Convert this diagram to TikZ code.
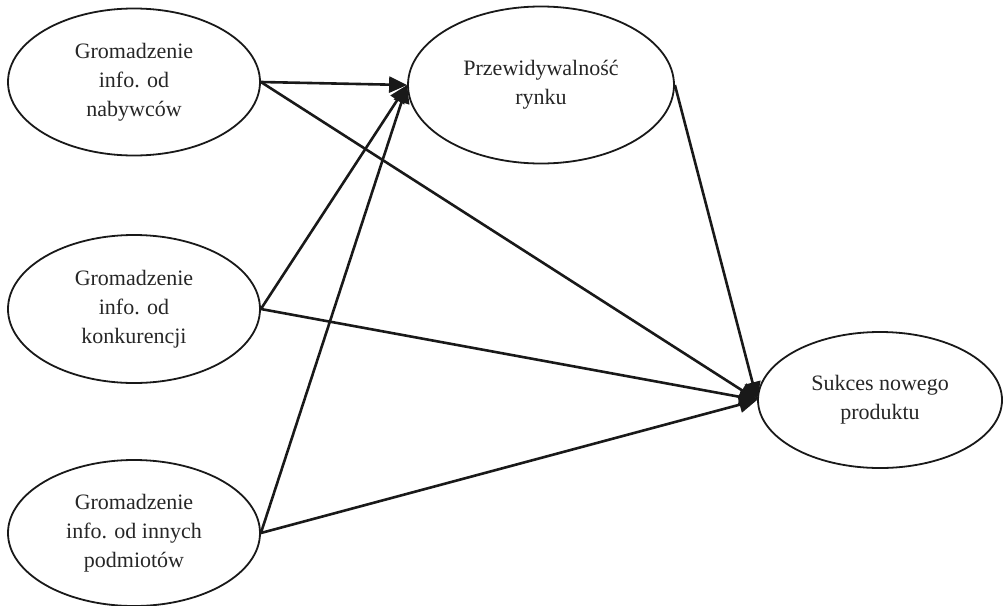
\documentclass[tikz,border=0pt]{standalone}
\usepackage{fontspec}
\setmainfont{Liberation Serif}
\usetikzlibrary{shapes.geometric,arrows.meta}
\begin{document}
\begin{tikzpicture}[x=1pt,y=-1pt,
  oval/.style={ellipse, draw=black!90, line width=1.8pt, inner sep=0pt, align=center,
    font=\fontsize{22}{29}\selectfont, text=black!85},
  link/.style={draw=black!90, line width=2.6pt, -{Triangle[length=18pt,width=16pt]}}]
\useasboundingbox (0,0) rectangle (1003,605);
\node[oval, minimum width=252pt, minimum height=147pt] (a) at (134,82) {Gromadzenie\\info. od\\nabywców};
\node[oval, minimum width=252pt, minimum height=148pt] (b) at (134,309) {Gromadzenie\\info. od\\konkurencji};
\node[oval, minimum width=252pt, minimum height=146pt] (c) at (134,533) {Gromadzenie\\info. od innych\\podmiotów};
\node[oval, minimum width=266pt, minimum height=157pt] (p) at (541,85) {Przewidywalność\\rynku};
\node[oval, minimum width=244pt, minimum height=136pt] (s) at (880,400) {Sukces nowego\\produktu};
\draw[link] (a.east) -- (p.west);
\draw[link] (a.east) -- (s.west);
\draw[link] (b.east) -- (p.west);
\draw[link] (b.east) -- (s.west);
\draw[link] (c.east) -- (p.west);
\draw[link] (c.east) -- (s.west);
\draw[link] (p.east) -- (s.west);
\end{tikzpicture}
\end{document}
